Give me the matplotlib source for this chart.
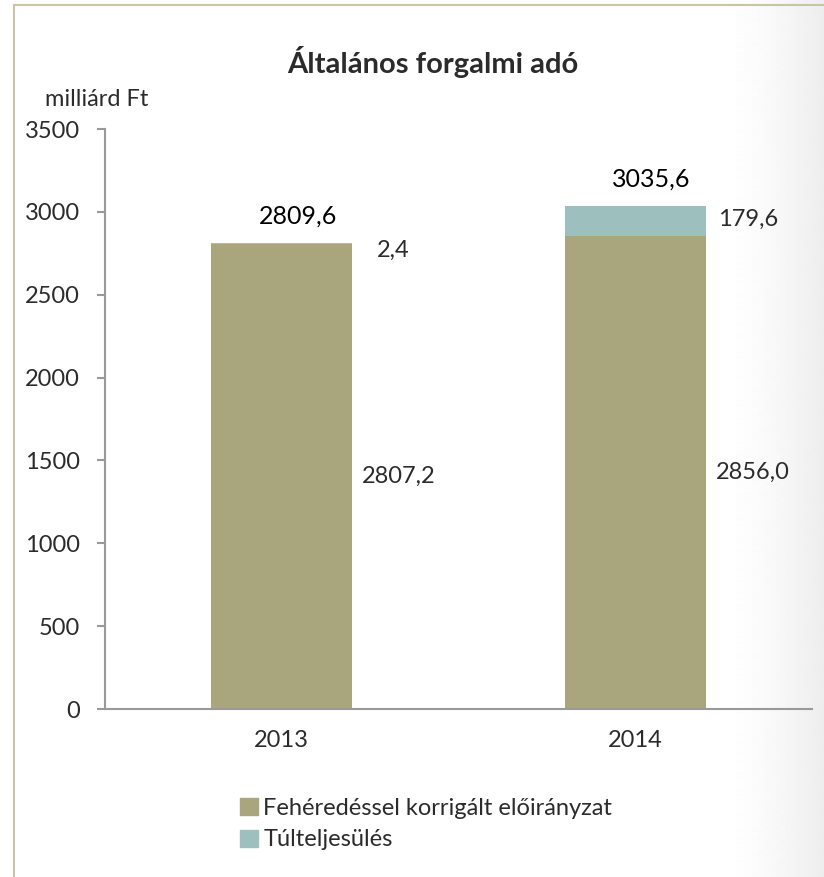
import numpy as np
import matplotlib
matplotlib.use("Agg")
import matplotlib.pyplot as plt
from matplotlib.patches import Patch

plt.rcParams['font.family'] = ['Lato', 'DejaVu Sans']

# data
years = ['2013', '2014']
base = [2807.2, 2856.0]      # Fehéredéssel korrigált előirányzat
extra = [2.4, 179.6]         # Túlteljesülés
totals = ['2809,6', '3035,6']
base_lbl = ['2807,2', '2856,0']
extra_lbl = ['2,4', '179,6']
yticks = [0, 500, 1000, 1500, 2000, 2500, 3000, 3500]

c_base = '#A9A67E'
c_extra = '#9DBFBE'
txt = '#2b2b2b'
fs = 17

fig = plt.figure(figsize=(8.24, 8.77), dpi=100)

# background: light shadow on the right + frame
bg = fig.add_axes([0, 0, 1, 1], zorder=-10)
xs = np.arange(824)
grad = np.tile(np.where(xs > 720, 1 - 0.07 * ((xs - 720) / 104.0) ** 1.5, 1.0), (2, 1))
bg.imshow(grad, cmap='gray', vmin=0, vmax=1, aspect='auto', extent=[0, 1, 0, 1])
bg.plot([14 / 824, 14 / 824], [0, 1 - 5 / 877], color='#C9C5A2', lw=1.5)
bg.plot([14 / 824, 1], [1 - 5 / 877, 1 - 5 / 877], color='#C9C5A2', lw=1.5)
bg.set_xlim(0, 1)
bg.set_ylim(0, 1)
bg.axis('off')

ax = fig.add_axes([105 / 824, 1 - 709 / 877, 707 / 824, 580 / 877])
ax.patch.set_alpha(0)
x = np.arange(len(years))
w = 0.4
ax.bar(x, base, w, color=c_base, zorder=2)
ax.bar(x, extra, w, bottom=base, color=c_extra, zorder=2)

ax.set_xlim(-0.5, 1.5)
ax.set_ylim(0, 3500)
ax.set_yticks(yticks)
ax.set_yticklabels([str(v) for v in yticks], fontsize=fs, color=txt)
ax.set_xticks(x)
ax.set_xticklabels(years, fontsize=fs, color=txt)
ax.tick_params(axis='x', length=0, pad=15)
ax.tick_params(axis='y', length=6, width=1.5, color='#999999', pad=12)
for s in ['top', 'right']:
    ax.spines[s].set_visible(False)
for s in ['left', 'bottom']:
    ax.spines[s].set_color('#999999')
    ax.spines[s].set_linewidth(1.5)

# labels
for i in range(len(years)):
    top = base[i] + extra[i]
    ax.text(x[i] + 0.045, top + 165, totals[i], ha='center', va='center',
            fontsize=fs + 1, color='black')
    ax.text(x[i] + 0.228, base[i] / 2, base_lbl[i], ha='left', va='center',
            fontsize=fs, color=txt)
ax.text(x[0] + 0.268, 2770, extra_lbl[0], ha='left', va='center', fontsize=fs, color=txt)
ax.text(x[1] + 0.235, base[1] + extra[1] / 2 + 10, extra_lbl[1], ha='left', va='center',
        fontsize=fs, color=txt)

fig.text(433 / 824, 1 - 62 / 877, 'Általános forgalmi adó', ha='center', va='center',
         fontsize=21, fontweight='bold', color=txt)
fig.text(45 / 824, 1 - 100 / 877, 'milliárd Ft', ha='left', va='center',
         fontsize=fs, color=txt)

handles = [Patch(color=c_base, label='Fehéredéssel korrigált előirányzat'),
           Patch(color=c_extra, label='Túlteljesülés')]
fig.legend(handles=handles, loc='upper left', bbox_to_anchor=(228 / 824, 1 - 786 / 877),
           frameon=False, fontsize=fs, handlelength=0.75, handleheight=0.75,
           handletextpad=0.25, labelspacing=0.45, labelcolor=txt, borderpad=0)

fig.savefig('out.png', dpi=100)
